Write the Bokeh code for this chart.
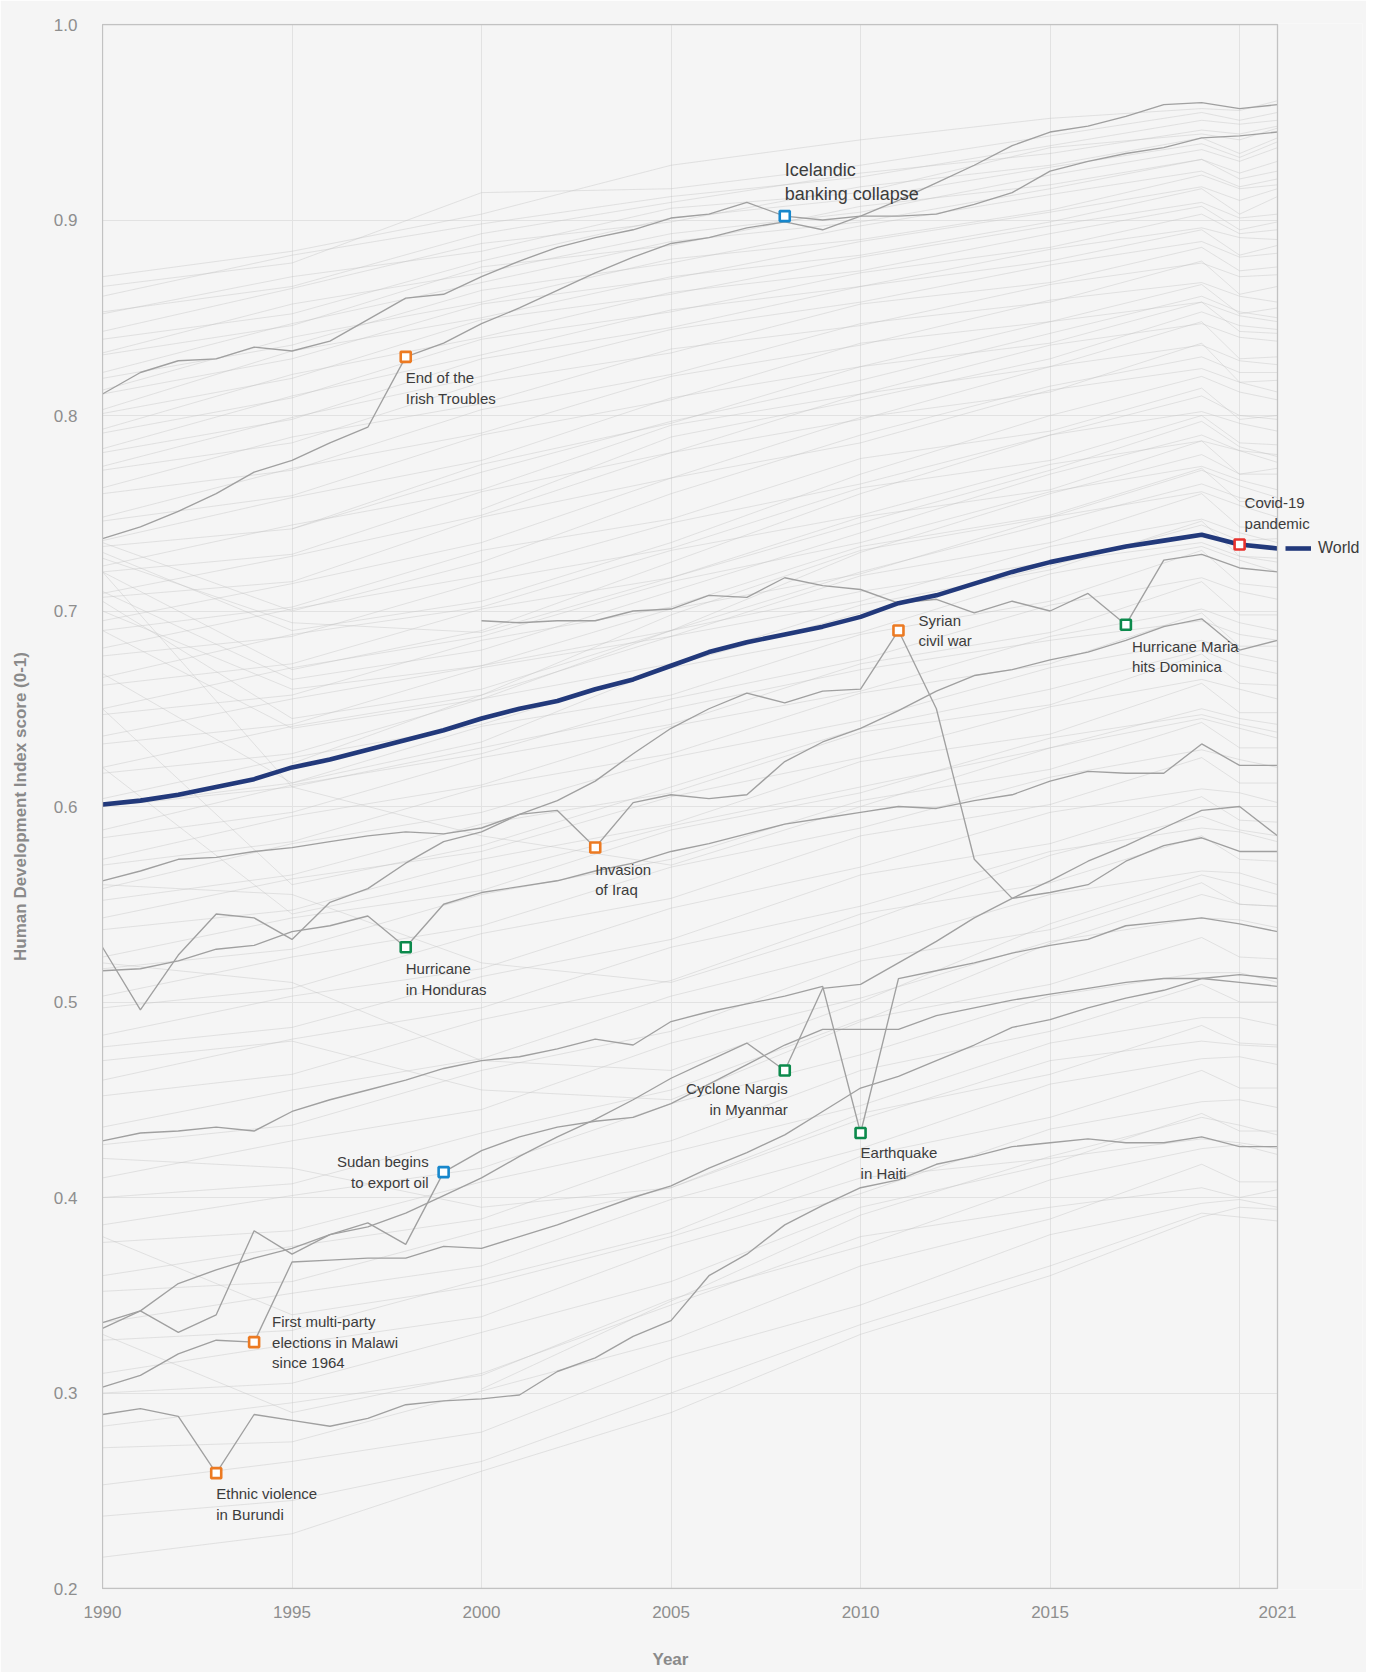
import math
from bokeh.plotting import figure
from bokeh.models import (FixedTicker, Legend, LegendItem, Range1d, PrintfTickFormatter, Label, BoxAnnotation, Title)
from bokeh.embed import file_html
from bokeh.resources import INLINE

nan = float("nan")
years = list(range(1990, 2022))

# ---- highlighted countries (one value per year 1990..2021) ----
world = [0.601, 0.603, 0.606, 0.610, 0.614, 0.620, 0.624, 0.629, 0.634, 0.639, 0.645, 0.650, 0.654, 0.660, 0.665, 0.672,
         0.679, 0.684, 0.688, 0.692, 0.697, 0.704, 0.708, 0.714, 0.720, 0.725, 0.729, 0.733, 0.736, 0.739, 0.734, 0.732]
iceland = [0.811, 0.822, 0.828, 0.829, 0.835, 0.833, 0.838, 0.849, 0.860, 0.862, 0.871, 0.879, 0.886, 0.891, 0.895, 0.901,
           0.903, 0.909, 0.902, 0.900, 0.902, 0.902, 0.903, 0.908, 0.914, 0.925, 0.930, 0.934, 0.937, 0.942, 0.943, 0.945]
ireland = [0.737, 0.743, 0.751, 0.760, 0.771, 0.777, 0.786, 0.794, 0.830, 0.837, 0.847, 0.855, 0.864, 0.873, 0.881, 0.888,
           0.891, 0.896, 0.899, 0.895, 0.902, 0.910, 0.919, 0.928, 0.938, 0.945, 0.948, 0.953, 0.959, 0.960, 0.957, 0.959]
dominica = [nan] * 10 + [0.695, 0.694, 0.695, 0.695, 0.700, 0.701, 0.708, 0.707, 0.717, 0.713, 0.711, 0.704, 0.706, 0.699,
                         0.705, 0.700, 0.709, 0.693, 0.726, 0.729, 0.722, 0.720]
syria = [0.562, 0.567, 0.573, 0.574, 0.577, 0.579, 0.582, 0.585, 0.587, 0.586, 0.589, 0.596, 0.603, 0.613, 0.627, 0.640,
         0.650, 0.658, 0.653, 0.659, 0.660, 0.690, 0.650, 0.573, 0.553, 0.556, 0.560, 0.572, 0.580, 0.584, 0.577, 0.577]
iraq = [0.528, 0.496, 0.524, 0.545, 0.543, 0.532, 0.551, 0.558, 0.571, 0.582, 0.587, 0.596, 0.598, 0.579, 0.602, 0.606,
        0.604, 0.606, 0.623, 0.633, 0.640, 0.649, 0.659, 0.667, 0.670, 0.675, 0.679, 0.685, 0.692, 0.696, 0.680, 0.685]
honduras = [0.516, 0.517, 0.521, 0.527, 0.529, 0.536, 0.539, 0.544, 0.528, 0.550, 0.556, 0.559, 0.562, 0.567, 0.571, 0.577,
            0.581, 0.586, 0.591, 0.594, 0.597, 0.600, 0.599, 0.603, 0.606, 0.613, 0.618, 0.617, 0.617, 0.632, 0.621, 0.621]
myanmar = [0.336, 0.342, 0.356, 0.363, 0.369, 0.374, 0.381, 0.385, 0.392, 0.401, 0.410, 0.421, 0.431, 0.440, 0.450, 0.461,
           0.470, 0.479, 0.465, 0.507, 0.509, 0.520, 0.531, 0.543, 0.553, 0.562, 0.572, 0.580, 0.589, 0.598, 0.600, 0.585]
haiti = [0.429, 0.433, 0.434, 0.436, 0.434, 0.444, 0.450, 0.455, 0.460, 0.466, 0.470, 0.472, 0.476, 0.481, 0.478, 0.490,
         0.495, 0.499, 0.503, 0.508, 0.433, 0.512, 0.516, 0.520, 0.525, 0.529, 0.532, 0.539, 0.541, 0.543, 0.540, 0.536]
sudan = [0.333, 0.342, 0.331, 0.340, 0.383, 0.371, 0.381, 0.387, 0.376, 0.413, 0.424, 0.431, 0.436, 0.439, 0.441, 0.448,
         0.458, 0.468, 0.478, 0.486, 0.486, 0.486, 0.493, 0.497, 0.501, 0.504, 0.507, 0.510, 0.512, 0.512, 0.510, 0.508]
malawi = [0.303, 0.309, 0.320, 0.327, 0.326, 0.367, 0.368, 0.369, 0.369, 0.375, 0.374, 0.380, 0.386, 0.393, 0.400, 0.406,
          0.415, 0.423, 0.432, 0.444, 0.456, 0.462, 0.470, 0.478, 0.487, 0.491, 0.497, 0.502, 0.506, 0.512, 0.514, 0.512]
burundi = [0.289, 0.292, 0.288, 0.259, 0.289, 0.286, 0.283, 0.287, 0.294, 0.296, 0.297, 0.299, 0.311, 0.318, 0.329, 0.337,
           0.360, 0.371, 0.386, 0.396, 0.405, 0.409, 0.417, 0.421, 0.426, 0.428, 0.430, 0.428, 0.428, 0.431, 0.426, 0.426]

highlighted = [iceland, ireland, dominica, syria, iraq, honduras, myanmar, haiti, sudan, malawi, burundi]

# ---- events ----
ev_series = [ireland, iceland, syria, dominica, world, iraq, honduras, myanmar, haiti, sudan, malawi, burundi]
ev_year = [1998, 2008, 2011, 2017, 2020, 2003, 1998, 2008, 2010, 1999, 1994, 1993]
ev_label = ["End of the\nIrish Troubles", "Icelandic\nbanking collapse", "Syrian\ncivil war",
            "Hurricane Maria\nhits Dominica", "Covid-19\npandemic", "Invasion\nof Iraq", "Hurricane\nin Honduras",
            "Cyclone Nargis\nin Myanmar", "Earthquake\nin Haiti", "Sudan begins\nto export oil",
            "First multi-party\nelections in Malawi\nsince 1964", "Ethnic violence\nin Burundi"]
ev_color = ["#ec7a22", "#1787cc", "#ec7a22", "#0c8a4c", "#e8322e", "#ec7a22", "#0c8a4c", "#0c8a4c", "#0c8a4c",
            "#1787cc", "#ec7a22", "#ec7a22"]

# ---- background countries (values at bg_years) ----
bg_years = [1990, 1995, 2000, 2005, 2010, 2015, 2019, 2020, 2021]
bg_top = [
    [0.871, 0.884, 0.903, 0.928, 0.941, 0.952, 0.957, 0.956, 0.961],
    [0.866, 0.878, 0.914, 0.916, 0.928, 0.943, 0.955, 0.951, 0.955],
    [0.861, 0.882, 0.898, 0.912, 0.922, 0.938, 0.951, 0.949, 0.951],
    [0.853, 0.866, 0.893, 0.909, 0.924, 0.934, 0.946, 0.944, 0.948],
    [0.852, 0.871, 0.884, 0.906, 0.914, 0.937, 0.944, 0.941, 0.947],
    [0.843, 0.865, 0.888, 0.899, 0.917, 0.928, 0.942, 0.934, 0.942],
    [0.839, 0.852, 0.879, 0.901, 0.911, 0.927, 0.939, 0.932, 0.940],
    [0.832, 0.857, 0.873, 0.893, 0.904, 0.923, 0.936, 0.930, 0.937],
    [0.831, 0.846, 0.876, 0.887, 0.907, 0.918, 0.931, 0.924, 0.930],
    [0.822, 0.847, 0.868, 0.889, 0.899, 0.916, 0.931, 0.921, 0.925],
    [0.819, 0.836, 0.864, 0.878, 0.897, 0.913, 0.925, 0.917, 0.921],
    [0.813, 0.840, 0.858, 0.880, 0.890, 0.905, 0.923, 0.916, 0.918],
    [0.811, 0.829, 0.857, 0.870, 0.889, 0.904, 0.917, 0.910, 0.916],
    [0.803, 0.833, 0.850, 0.871, 0.882, 0.899, 0.916, 0.903, 0.912],
    [0.801, 0.819, 0.849, 0.862, 0.881, 0.897, 0.909, 0.901, 0.903],
    [0.793, 0.821, 0.840, 0.863, 0.874, 0.893, 0.907, 0.895, 0.899],
    [0.791, 0.809, 0.839, 0.853, 0.873, 0.886, 0.903, 0.893, 0.895],
    [0.783, 0.810, 0.831, 0.854, 0.866, 0.885, 0.896, 0.891, 0.890],
    [0.781, 0.798, 0.829, 0.845, 0.866, 0.879, 0.895, 0.882, 0.887],
    [0.774, 0.799, 0.820, 0.844, 0.858, 0.877, 0.889, 0.881, 0.883],
]
bg_upper = [
    [0.772, 0.786, 0.817, 0.832, 0.857, 0.868, 0.886, 0.874, 0.876],
    [0.763, 0.789, 0.806, 0.834, 0.846, 0.867, 0.878, 0.871, 0.872],
    [0.760, 0.772, 0.803, 0.821, 0.847, 0.858, 0.879, 0.862, 0.866],
    [0.748, 0.773, 0.791, 0.820, 0.836, 0.859, 0.868, 0.861, 0.858],
    [0.746, 0.759, 0.790, 0.808, 0.837, 0.848, 0.867, 0.852, 0.855],
    [0.736, 0.758, 0.777, 0.809, 0.825, 0.848, 0.858, 0.851, 0.848],
    [0.733, 0.742, 0.775, 0.796, 0.825, 0.837, 0.858, 0.843, 0.842],
    [0.723, 0.744, 0.762, 0.795, 0.811, 0.836, 0.847, 0.840, 0.838],
    [0.720, 0.729, 0.761, 0.781, 0.811, 0.825, 0.848, 0.829, 0.830],
    [0.709, 0.728, 0.749, 0.781, 0.798, 0.825, 0.836, 0.828, 0.826],
    [0.707, 0.715, 0.748, 0.768, 0.799, 0.812, 0.837, 0.817, 0.818],
    [0.695, 0.714, 0.735, 0.768, 0.786, 0.813, 0.824, 0.817, 0.812],
    [nan, 0.742, 0.771, 0.797, 0.818, 0.842, 0.861, 0.853, 0.850],
    [nan, nan, 0.752, 0.789, 0.808, 0.829, 0.853, 0.846, 0.844],
]
bg_transition = [
    [0.730, 0.690, 0.705, 0.735, 0.770, 0.800, 0.820, 0.812, 0.808],
    [0.720, 0.670, 0.690, 0.725, 0.760, 0.790, 0.810, 0.800, 0.798],
    [0.735, 0.700, 0.725, 0.760, 0.790, 0.815, 0.830, 0.822, 0.822],
    [0.710, 0.665, 0.680, 0.710, 0.740, 0.770, 0.790, 0.782, 0.780],
    [0.705, 0.645, 0.660, 0.690, 0.720, 0.745, 0.765, 0.758, 0.755],
    [0.690, 0.640, 0.655, 0.690, 0.730, 0.760, 0.780, 0.770, 0.773],
    [0.720, 0.610, 0.630, 0.650, 0.670, 0.685, 0.695, 0.688, 0.685],
    [0.650, 0.560, 0.580, 0.610, 0.640, 0.660, 0.680, 0.672, 0.668],
    [0.620, 0.545, 0.565, 0.590, 0.610, 0.630, 0.650, 0.645, 0.642],
    [0.700, 0.660, 0.672, 0.690, 0.710, 0.725, 0.735, 0.728, 0.725],
    [0.727, 0.694, 0.689, 0.717, 0.745, 0.772, 0.797, 0.784, 0.779],
    [0.668, 0.612, 0.633, 0.672, 0.699, 0.723, 0.744, 0.736, 0.737],
]
bg_mid = [
    [0.690, 0.702, 0.731, 0.747, 0.778, 0.792, 0.814, 0.798, 0.800],
    [0.681, 0.701, 0.718, 0.745, 0.765, 0.790, 0.802, 0.796, 0.792],
    [0.677, 0.687, 0.715, 0.732, 0.763, 0.777, 0.800, 0.786, 0.785],
    [0.666, 0.688, 0.702, 0.731, 0.749, 0.775, 0.787, 0.782, 0.776],
    [0.662, 0.673, 0.701, 0.717, 0.748, 0.762, 0.787, 0.770, 0.770],
    [0.650, 0.671, 0.687, 0.715, 0.735, 0.761, 0.774, 0.767, 0.762],
    [0.647, 0.657, 0.685, 0.702, 0.733, 0.749, 0.773, 0.756, 0.756],
    [0.636, 0.655, 0.672, 0.701, 0.719, 0.748, 0.761, 0.754, 0.748],
    [0.632, 0.642, 0.671, 0.687, 0.718, 0.735, 0.760, 0.743, 0.742],
    [0.620, 0.641, 0.657, 0.687, 0.705, 0.733, 0.747, 0.740, 0.735],
    [0.617, 0.627, 0.655, 0.673, 0.703, 0.721, 0.746, 0.728, 0.727],
    [0.604, 0.625, 0.642, 0.671, 0.689, 0.719, 0.733, 0.726, 0.720],
    [0.600, 0.612, 0.641, 0.657, 0.688, 0.705, 0.731, 0.714, 0.712],
    [0.588, 0.611, 0.627, 0.655, 0.675, 0.703, 0.717, 0.710, 0.706],
    [0.584, 0.597, 0.625, 0.642, 0.673, 0.689, 0.715, 0.698, 0.698],
    [0.573, 0.595, 0.611, 0.641, 0.659, 0.687, 0.701, 0.694, 0.690],
    [0.570, 0.582, 0.610, 0.627, 0.658, 0.673, 0.699, 0.682, 0.682],
    [0.558, 0.581, 0.597, 0.625, 0.644, 0.671, 0.685, 0.678, 0.674],
    [nan, 0.622, 0.657, 0.698, 0.731, 0.748, 0.772, 0.764, 0.758],
]
bg_lowmid = [
    [0.552, 0.565, 0.591, 0.607, 0.638, 0.652, 0.678, 0.663, 0.662],
    [0.543, 0.563, 0.577, 0.605, 0.625, 0.651, 0.665, 0.660, 0.655],
    [0.537, 0.547, 0.573, 0.591, 0.623, 0.637, 0.663, 0.648, 0.648],
    [0.523, 0.543, 0.557, 0.588, 0.607, 0.635, 0.647, 0.642, 0.638],
    [0.517, 0.527, 0.555, 0.573, 0.603, 0.619, 0.643, 0.630, 0.630],
    [0.503, 0.523, 0.539, 0.569, 0.589, 0.615, 0.629, 0.624, 0.620],
    [0.497, 0.507, 0.535, 0.553, 0.585, 0.601, 0.625, 0.612, 0.612],
    [0.483, 0.503, 0.517, 0.548, 0.569, 0.597, 0.609, 0.607, 0.602],
    [0.477, 0.487, 0.513, 0.532, 0.565, 0.581, 0.605, 0.593, 0.592],
    [0.460, 0.481, 0.497, 0.528, 0.549, 0.577, 0.589, 0.587, 0.582],
    [0.452, 0.463, 0.491, 0.511, 0.545, 0.561, 0.585, 0.573, 0.572],
    [0.436, 0.455, 0.471, 0.503, 0.527, 0.555, 0.567, 0.566, 0.560],
    [0.427, 0.437, 0.465, 0.485, 0.521, 0.537, 0.561, 0.550, 0.549],
    [0.410, 0.429, 0.445, 0.479, 0.502, 0.531, 0.543, 0.542, 0.538],
    [0.560, 0.555, 0.520, 0.510, 0.540, 0.575, 0.595, 0.588, 0.585],
    [0.600, 0.610, 0.585, 0.570, 0.600, 0.630, 0.645, 0.640, 0.635],
    [0.520, 0.510, 0.470, 0.465, 0.500, 0.540, 0.565, 0.560, 0.555],
    [0.470, 0.480, 0.455, 0.450, 0.490, 0.530, 0.555, 0.550, 0.549],
]
bg_low = [
    [0.400, 0.407, 0.433, 0.455, 0.491, 0.509, 0.533, 0.523, 0.522],
    [0.386, 0.401, 0.415, 0.448, 0.473, 0.503, 0.515, 0.515, 0.510],
    [0.377, 0.383, 0.408, 0.429, 0.465, 0.485, 0.509, 0.500, 0.500],
    [0.360, 0.375, 0.389, 0.423, 0.447, 0.479, 0.492, 0.492, 0.488],
    [0.352, 0.357, 0.383, 0.405, 0.443, 0.463, 0.488, 0.479, 0.478],
    [0.336, 0.351, 0.365, 0.399, 0.425, 0.458, 0.471, 0.472, 0.468],
    [0.327, 0.332, 0.358, 0.382, 0.421, 0.441, 0.465, 0.456, 0.456],
    [0.310, 0.325, 0.339, 0.375, 0.402, 0.435, 0.449, 0.450, 0.446],
    [0.300, 0.305, 0.331, 0.357, 0.395, 0.417, 0.443, 0.434, 0.434],
    [0.283, 0.295, 0.309, 0.348, 0.375, 0.409, 0.425, 0.427, 0.422],
    [0.272, 0.275, 0.301, 0.327, 0.365, 0.389, 0.417, 0.408, 0.408],
    [0.253, 0.265, 0.280, 0.318, 0.345, 0.381, 0.397, 0.399, 0.395],
    [0.237, 0.245, 0.265, 0.300, 0.335, 0.365, 0.392, 0.390, 0.388],
    [0.216, 0.228, 0.260, 0.290, 0.330, 0.360, 0.390, 0.395, 0.394],
    [0.330, 0.290, 0.310, 0.345, 0.380, 0.395, 0.405, 0.400, 0.404],
    [0.420, 0.415, 0.395, 0.405, 0.440, 0.470, 0.480, 0.478, 0.477],
    [0.380, 0.340, 0.355, 0.380, 0.410, 0.420, 0.430, 0.428, 0.425],
    [nan, nan, 0.302, 0.347, 0.391, 0.421, 0.441, 0.437, 0.432],
]

x_ticks = [1990, 1995, 2000, 2005, 2010, 2015, 2021]
x_grid = [1995, 2000, 2005, 2010, 2015, 2020]
y_ticks = [0.2, 0.3, 0.4, 0.5, 0.6, 0.7, 0.8, 0.9, 1.0]

FONT = "Liberation Sans"
BG = "#f5f5f5"
X0, X1, Y0, Y1 = 1990, 2021, 0.2, 1.0
DATA_W, DATA_H = 1175, 1564          # pixel size of the 1990-2021 x 0.2-1.0 box
PX_X = DATA_W / (X1 - X0)
PX_Y = DATA_H / (Y1 - Y0)
PAD = 1                              # px of slack round the box so its border is not clipped
EXTRA = 85                           # px to the right of the box, for the World key
FRAME_W = DATA_W + PAD + EXTRA
FRAME_H = DATA_H + 2 * PAD

p = figure(frame_width=FRAME_W, frame_height=FRAME_H,
           x_range=Range1d(X0 - PAD / PX_X, X1 + EXTRA / PX_X),
           y_range=Range1d(Y0 - PAD / PX_Y, Y1 + PAD / PX_Y),
           output_backend="svg", toolbar_location=None,
           min_border_left=101, min_border_top=23, min_border_right=4, min_border_bottom=60,
           background_fill_color=BG, border_fill_color=BG, outline_line_color=None)

# axes
p.xaxis.ticker = FixedTicker(ticks=x_ticks)
p.yaxis.ticker = FixedTicker(ticks=y_ticks)
p.yaxis.formatter = PrintfTickFormatter(format="%.1f")
for ax in (p.xaxis[0], p.yaxis[0]):
    ax.axis_line_color = None
    ax.major_tick_line_color = None
    ax.minor_tick_line_color = None
    ax.major_label_text_font = FONT
    ax.major_label_text_font_size = "17px"
    ax.major_label_text_color = "#8e8e8e"
    ax.axis_label_text_font = FONT
    ax.axis_label_text_font_size = "17px"
    ax.axis_label_text_font_style = "bold"
    ax.axis_label_text_color = "#8a8a8a"
p.yaxis.axis_label = "Human Development Index score (0-1)"
p.yaxis.major_label_text_baseline = "alphabetic"
p.xaxis.major_label_standoff = 10
p.yaxis.major_label_standoff = 18
p.yaxis.axis_label_standoff = 21

p.add_layout(Title(text="Year", align="left", offset=551, standoff=55, text_font=FONT, text_font_size="17px",
                   text_font_style="bold", text_color="#8a8a8a"), "below")

p.xgrid.ticker = FixedTicker(ticks=x_grid)
p.ygrid.ticker = FixedTicker(ticks=y_ticks[1:-1])
p.xgrid.cross_bounds = (Y0, Y1)
p.ygrid.cross_bounds = (X0, X1)
p.xgrid.grid_line_color = "#e2e2e2"
p.ygrid.grid_line_color = "#e2e2e2"

# background lines
for group in (bg_top, bg_upper, bg_transition, bg_mid, bg_lowmid, bg_low):
    p.multi_line(xs=[bg_years] * len(group), ys=group, line_color="#c4c4c4", line_alpha=0.42, line_width=1)

# highlighted lines
for s in highlighted:
    p.line(years, s, line_color="#a0a0a0", line_width=1.35)

world_r = p.line(years, world, line_color="#22397b", line_width=4.6, line_join="round")

# data box border
p.add_layout(BoxAnnotation(left=X0, right=X1, bottom=Y0, top=Y1, fill_color=None, fill_alpha=0,
                           line_color="#c2c2c2", line_alpha=1, line_width=1.3))

# event markers
ev_x = ev_year
ev_y = [s[years.index(y)] for s, y in zip(ev_series, ev_year)]
p.scatter(ev_x, ev_y, marker="square", size=10, fill_color="white", line_color=ev_color, line_width=2.6)

# event labels: (align, baseline, x_offset, y_offset, size)
ev_style = [
    ("left", "top", 0, -12, "15px"),
    ("left", "bottom", 0, 12, "18px"),
    ("left", "middle", 20, 0, "15px"),
    ("left", "top", 6, -13, "15px"),
    ("left", "bottom", 5, 13, "15px"),
    ("left", "top", 0, -13, "15px"),
    ("left", "top", 0, -13, "15px"),
    ("right", "top", 3, -10, "15px"),
    ("left", "top", 0, -11, "15px"),
    ("right", "middle", -15, 0, "15px"),
    ("left", "middle", 18, 0, "15px"),
    ("left", "top", 0, -12, "15px"),
]
for x, y, t, (al, bl, xo, yo, fs) in zip(ev_x, ev_y, ev_label, ev_style):
    p.add_layout(Label(x=x, y=y, text=t, x_offset=xo, y_offset=yo, text_align=al, text_baseline=bl,
                       text_font=FONT, text_font_size=fs, text_color="#3c3c3c", text_line_height=1.22))

# World key, just right of the box and level with the last World value
leg_x = PAD + DATA_W + 8
leg_y = round(PAD + (world[-1] - Y0) * PX_Y) - 10
legend = Legend(items=[LegendItem(label="World", renderers=[world_r])], location=(leg_x, leg_y),
                border_line_color=None, background_fill_alpha=0, label_text_font=FONT,
                label_text_font_size="16px", label_text_color="#3c3c3c", glyph_width=26, glyph_height=20,
                label_height=20, label_standoff=7, padding=0, margin=0, spacing=0)
p.add_layout(legend)

open("out.html", "w").write(file_html(p, INLINE))
